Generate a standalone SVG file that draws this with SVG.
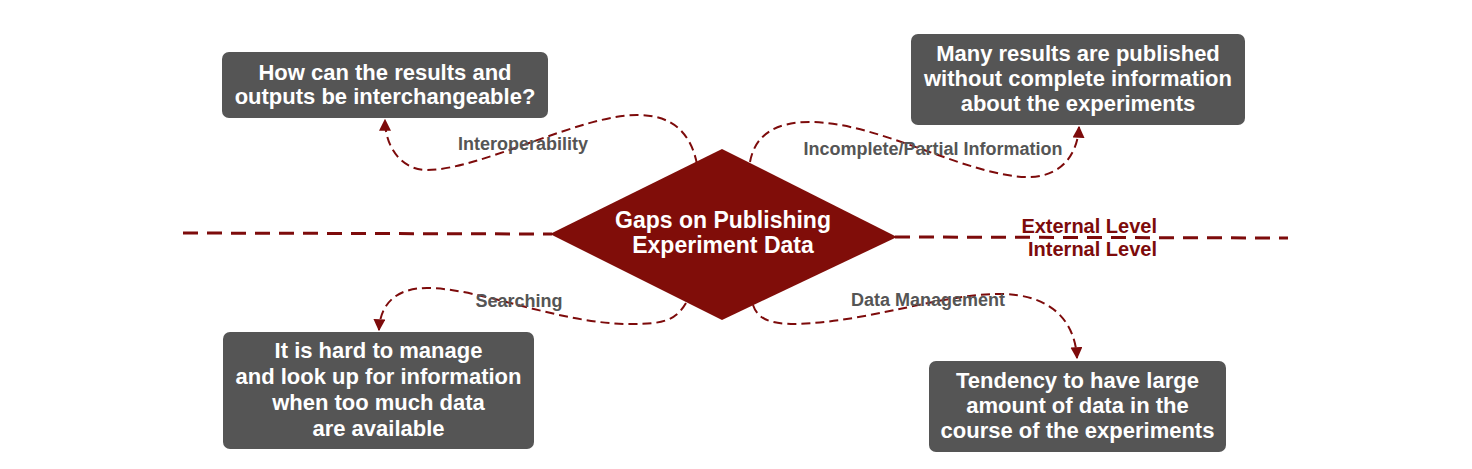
<svg xmlns="http://www.w3.org/2000/svg" width="1472" height="469" viewBox="0 0 1472 469">
<defs>
<style>
.box{fill:#555555}
.bt{font-family:"Liberation Sans",Arial,sans-serif;font-weight:bold;font-size:22px;fill:#ffffff;text-anchor:middle}
.dt{font-family:"Liberation Sans",Arial,sans-serif;font-weight:bold;font-size:23px;fill:#ffffff;text-anchor:middle}
.lbl{font-family:"Liberation Sans",Arial,sans-serif;font-weight:bold;font-size:18px;fill:#555555;text-anchor:middle}
.lvl{font-family:"Liberation Sans",Arial,sans-serif;font-weight:bold;font-size:20px;fill:#7d0b0b;text-anchor:end}
.conn{fill:none;stroke:#7d0b0b;stroke-width:2;stroke-dasharray:9,5}
.level{fill:none;stroke:#7d0b0b;stroke-width:3;stroke-dasharray:15,9}
</style>
<marker id="arr" viewBox="0 0 10 10" refX="9" refY="5" markerWidth="6" markerHeight="6" orient="auto" markerUnits="strokeWidth">
<path d="M0,0 L10,5 L0,10 z" fill="#7d0b0b"/>
</marker>
</defs>
<g id="levels">
<line class="level" x1="183" y1="233" x2="552" y2="234"/>
<line class="level" x1="895" y1="237" x2="1288" y2="238"/>
<text class="lvl" x="1157" y="233">External Level</text>
<text class="lvl" x="1157" y="256">Internal Level</text>
</g>
<g id="connectors">
<path class="conn" d="M697,164 C690,130 670,115 637,115 C580,115 480,170 427,170 C400,170 385,145 385,120" marker-end="url(#arr)"/>
<path class="conn" d="M750,162 C755,135 775,122 810,122 C880,122 970,178 1030,177 C1065,176 1078,150 1079,127" marker-end="url(#arr)"/>
<path class="conn" d="M686,303 C675,322 660,324 630,324 C560,324 480,288 427,288 C395,288 380,305 379,330" marker-end="url(#arr)"/>
<path class="conn" d="M753,305 C758,320 772,324 795,324 C870,322 940,294 1000,294 C1050,294 1075,320 1077,358" marker-end="url(#arr)"/>
<text class="lbl" x="523" y="150">Interoperability</text>
<text class="lbl" x="933" y="155">Incomplete/Partial Information</text>
<text class="lbl" x="519" y="307">Searching</text>
<text class="lbl" x="928" y="306">Data Management</text>
</g>
<g id="center">
<polygon points="550,234 722,149 897,237 722,320" fill="#800d09"/>
<text class="dt" x="723" y="228">Gaps on Publishing</text>
<text class="dt" x="723" y="253">Experiment Data</text>
</g>
<g id="interop">
<rect class="box" x="222" y="52" width="326" height="66" rx="7"/>
<text class="bt" x="385" y="80">How can the results and</text>
<text class="bt" x="385" y="104">outputs be interchangeable?</text>
</g>
<g id="incomplete">
<rect class="box" x="911" y="34" width="334" height="91" rx="7"/>
<text class="bt" x="1078" y="61">Many results are published</text>
<text class="bt" x="1078" y="86">without complete information</text>
<text class="bt" x="1078" y="111">about the experiments</text>
</g>
<g id="searching">
<rect class="box" x="223" y="332" width="311" height="117" rx="7"/>
<text class="bt" x="378.5" y="358">It is hard to manage</text>
<text class="bt" x="378.5" y="384">and look up for information</text>
<text class="bt" x="378.5" y="410">when too much data</text>
<text class="bt" x="378.5" y="436">are available</text>
</g>
<g id="datamgmt">
<rect class="box" x="929" y="361" width="297" height="91" rx="7"/>
<text class="bt" x="1077.5" y="388">Tendency to have large</text>
<text class="bt" x="1077.5" y="413">amount of data in the</text>
<text class="bt" x="1077.5" y="438">course of the experiments</text>
</g>
</svg>
